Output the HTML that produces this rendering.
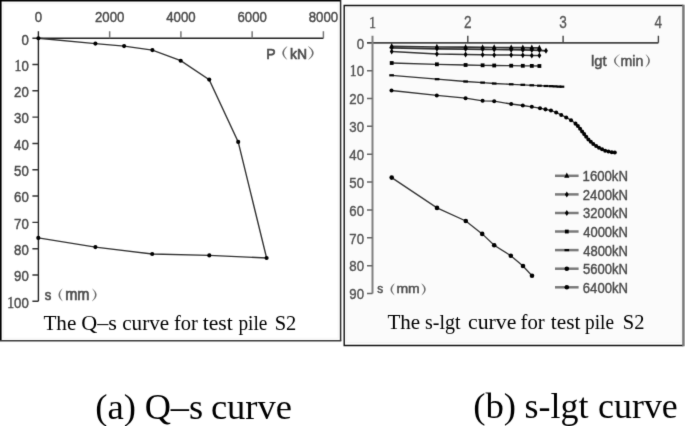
<!DOCTYPE html>
<html><head><meta charset="utf-8"><style>
html,body{margin:0;padding:0;background:#fff;width:685px;height:426px;overflow:hidden}
svg{display:block;position:absolute;left:0;top:0}
text{white-space:pre}
</style></head><body>
<svg width="685" height="426" viewBox="0 0 685 426"><defs><filter id="bl" x="0" y="0" width="685" height="426" filterUnits="userSpaceOnUse" color-interpolation-filters="sRGB"><feConvolveMatrix order="3" kernelMatrix="0.0100 0.0800 0.0100 0.0800 0.6400 0.0800 0.0100 0.0800 0.0100" edgeMode="duplicate"/></filter></defs><g filter="url(#bl)"><rect width="685" height="426" fill="#fff"/><rect x="346.6" y="7.6" width="334.6" height="334.9" fill="#fbfbfb" stroke="#f2f2f2" stroke-width="0.8"/>
<rect x="3.5" y="3.3" width="334.6" height="334.9" fill="none" stroke="#f4f4f4" stroke-width="0.8"/>
<path d="M0.8,340.8V0.75H340.6" fill="none" stroke="#000" stroke-width="1.6"/>
<path d="M340.6,0V340.8" fill="none" stroke="#2a2a2a" stroke-width="1.5"/>
<path d="M341.3,340.8H0" fill="none" stroke="#3a3a3a" stroke-width="1.6"/>
<path d="M683.3,5.5H344.2V345.5H683.3" fill="none" stroke="#111" stroke-width="1.4"/>
<path d="M683.4,4.8V346.2" fill="none" stroke="#777" stroke-width="2.4"/>
<path d="M38.4,38.2H323.4M38.4,31.200000000000003V301.3" stroke="#222" stroke-width="1.4" fill="none"/>
<path d="M109.65,31.200000000000003V38.2M180.9,31.200000000000003V38.2M252.14999999999998,31.200000000000003V38.2M323.4,31.200000000000003V38.2" stroke="#777" stroke-width="1.5" fill="none"/>
<path d="M32.4,38.2H38.4M32.4,64.51H38.4M32.4,90.82000000000001H38.4M32.4,117.13000000000001H38.4M32.4,143.44H38.4M32.4,169.75H38.4M32.4,196.06H38.4M32.4,222.37H38.4M32.4,248.68H38.4M32.4,274.99H38.4M32.4,301.3H38.4" stroke="#333" stroke-width="1.4" fill="none"/>
<text transform="translate(38.40,22.30) scale(0.87,1)" text-anchor="middle" font-family="Liberation Sans" font-size="15.2" fill="#4a4a4a" stroke="#4a4a4a" stroke-width="0.45">0</text>
<text transform="translate(109.65,22.30) scale(0.87,1)" text-anchor="middle" font-family="Liberation Sans" font-size="15.2" fill="#4a4a4a" stroke="#4a4a4a" stroke-width="0.45">2000</text>
<text transform="translate(180.90,22.30) scale(0.87,1)" text-anchor="middle" font-family="Liberation Sans" font-size="15.2" fill="#4a4a4a" stroke="#4a4a4a" stroke-width="0.45">4000</text>
<text transform="translate(252.15,22.30) scale(0.87,1)" text-anchor="middle" font-family="Liberation Sans" font-size="15.2" fill="#4a4a4a" stroke="#4a4a4a" stroke-width="0.45">6000</text>
<text transform="translate(323.40,22.30) scale(0.87,1)" text-anchor="middle" font-family="Liberation Sans" font-size="15.2" fill="#4a4a4a" stroke="#4a4a4a" stroke-width="0.45">8000</text>
<text transform="translate(28.80,44.50) scale(0.87,1)" text-anchor="end" font-family="Liberation Sans" font-size="15.2" fill="#4a4a4a" stroke="#4a4a4a" stroke-width="0.45">0</text>
<text transform="translate(28.80,70.81) scale(0.87,1)" text-anchor="end" font-family="Liberation Sans" font-size="15.2" fill="#4a4a4a" stroke="#4a4a4a" stroke-width="0.45"><tspan font-family="Liberation Serif" font-size="15.81">1</tspan>0</text>
<text transform="translate(28.80,97.12) scale(0.87,1)" text-anchor="end" font-family="Liberation Sans" font-size="15.2" fill="#4a4a4a" stroke="#4a4a4a" stroke-width="0.45">20</text>
<text transform="translate(28.80,123.43) scale(0.87,1)" text-anchor="end" font-family="Liberation Sans" font-size="15.2" fill="#4a4a4a" stroke="#4a4a4a" stroke-width="0.45">30</text>
<text transform="translate(28.80,149.74) scale(0.87,1)" text-anchor="end" font-family="Liberation Sans" font-size="15.2" fill="#4a4a4a" stroke="#4a4a4a" stroke-width="0.45">40</text>
<text transform="translate(28.80,176.05) scale(0.87,1)" text-anchor="end" font-family="Liberation Sans" font-size="15.2" fill="#4a4a4a" stroke="#4a4a4a" stroke-width="0.45">50</text>
<text transform="translate(28.80,202.36) scale(0.87,1)" text-anchor="end" font-family="Liberation Sans" font-size="15.2" fill="#4a4a4a" stroke="#4a4a4a" stroke-width="0.45">60</text>
<text transform="translate(28.80,228.67) scale(0.87,1)" text-anchor="end" font-family="Liberation Sans" font-size="15.2" fill="#4a4a4a" stroke="#4a4a4a" stroke-width="0.45">70</text>
<text transform="translate(28.80,254.98) scale(0.87,1)" text-anchor="end" font-family="Liberation Sans" font-size="15.2" fill="#4a4a4a" stroke="#4a4a4a" stroke-width="0.45">80</text>
<text transform="translate(28.80,281.29) scale(0.87,1)" text-anchor="end" font-family="Liberation Sans" font-size="15.2" fill="#4a4a4a" stroke="#4a4a4a" stroke-width="0.45">90</text>
<text transform="translate(28.80,307.60) scale(0.87,1)" text-anchor="end" font-family="Liberation Sans" font-size="15.2" fill="#4a4a4a" stroke="#4a4a4a" stroke-width="0.45"><tspan font-family="Liberation Serif" font-size="15.81">1</tspan>00</text>
<polyline points="38.4,38.2 95.4,43.6 124.1,46.1 152.4,50.1 180.7,60.7 209.2,79.6 238.2,141.9 266.6,258.0 209.3,255.4 152.2,254.0 95.4,247.1 38.3,237.9" fill="none" stroke="#333" stroke-width="1.4"/>
<circle cx="38.40" cy="38.20" r="2.07" fill="#000"/><circle cx="95.40" cy="43.60" r="2.07" fill="#000"/><circle cx="124.10" cy="46.10" r="2.07" fill="#000"/><circle cx="152.40" cy="50.10" r="2.07" fill="#000"/><circle cx="180.70" cy="60.70" r="2.07" fill="#000"/><circle cx="209.20" cy="79.60" r="2.07" fill="#000"/><circle cx="238.20" cy="141.90" r="2.07" fill="#000"/><circle cx="266.60" cy="258.00" r="2.07" fill="#000"/><circle cx="209.30" cy="255.40" r="2.07" fill="#000"/><circle cx="152.20" cy="254.00" r="2.07" fill="#000"/><circle cx="95.40" cy="247.10" r="2.07" fill="#000"/><circle cx="38.30" cy="237.90" r="2.07" fill="#000"/>
<path d="M367.0,42.8H658.4" stroke="#444" stroke-width="1.7" fill="none"/>
<path d="M372.5,35.8V293.5" stroke="#808080" stroke-width="2.0" fill="none"/>
<path d="M467.8,35.8V42.8M563.1,35.8V42.8M658.4,35.8V42.8" stroke="#444" stroke-width="1.4" fill="none"/>
<path d="M367.0,70.65555555555555H372.5M367.0,98.5111111111111H372.5M367.0,126.36666666666666H372.5M367.0,154.22222222222223H372.5M367.0,182.07777777777778H372.5M367.0,209.93333333333334H372.5M367.0,237.7888888888889H372.5M367.0,265.64444444444445H372.5M367.0,293.5H372.5" stroke="#666" stroke-width="1.5" fill="none"/>
<text transform="translate(372.50,27.60) scale(0.84,1)" text-anchor="middle" font-family="Liberation Sans" font-size="16.2" fill="#555" stroke="#555" stroke-width="0.3"><tspan font-family="Liberation Serif" font-size="16.85">1</tspan></text>
<text transform="translate(467.80,27.60) scale(0.84,1)" text-anchor="middle" font-family="Liberation Sans" font-size="16.2" fill="#555" stroke="#555" stroke-width="0.3">2</text>
<text transform="translate(563.10,27.60) scale(0.84,1)" text-anchor="middle" font-family="Liberation Sans" font-size="16.2" fill="#555" stroke="#555" stroke-width="0.3">3</text>
<text transform="translate(658.40,27.60) scale(0.84,1)" text-anchor="middle" font-family="Liberation Sans" font-size="16.2" fill="#555" stroke="#555" stroke-width="0.3">4</text>
<text transform="translate(364.00,48.60) scale(0.87,1)" text-anchor="end" font-family="Liberation Sans" font-size="15.2" fill="#505050" stroke="#505050" stroke-width="0.38">0</text>
<text transform="translate(364.00,76.46) scale(0.87,1)" text-anchor="end" font-family="Liberation Sans" font-size="15.2" fill="#505050" stroke="#505050" stroke-width="0.38"><tspan font-family="Liberation Serif" font-size="15.81">1</tspan>0</text>
<text transform="translate(364.00,104.31) scale(0.87,1)" text-anchor="end" font-family="Liberation Sans" font-size="15.2" fill="#505050" stroke="#505050" stroke-width="0.38">20</text>
<text transform="translate(364.00,132.17) scale(0.87,1)" text-anchor="end" font-family="Liberation Sans" font-size="15.2" fill="#505050" stroke="#505050" stroke-width="0.38">30</text>
<text transform="translate(364.00,160.02) scale(0.87,1)" text-anchor="end" font-family="Liberation Sans" font-size="15.2" fill="#505050" stroke="#505050" stroke-width="0.38">40</text>
<text transform="translate(364.00,187.88) scale(0.87,1)" text-anchor="end" font-family="Liberation Sans" font-size="15.2" fill="#505050" stroke="#505050" stroke-width="0.38">50</text>
<text transform="translate(364.00,215.73) scale(0.87,1)" text-anchor="end" font-family="Liberation Sans" font-size="15.2" fill="#505050" stroke="#505050" stroke-width="0.38">60</text>
<text transform="translate(364.00,243.59) scale(0.87,1)" text-anchor="end" font-family="Liberation Sans" font-size="15.2" fill="#505050" stroke="#505050" stroke-width="0.38">70</text>
<text transform="translate(364.00,271.44) scale(0.87,1)" text-anchor="end" font-family="Liberation Sans" font-size="15.2" fill="#505050" stroke="#505050" stroke-width="0.38">80</text>
<text transform="translate(364.00,299.30) scale(0.87,1)" text-anchor="end" font-family="Liberation Sans" font-size="15.2" fill="#505050" stroke="#505050" stroke-width="0.38">90</text>
<polyline points="391.7,46.3 436.9,47.0 465.6,47.2 482.6,47.4 494.2,47.5 511.2,47.6 522.8,47.7 531.8,47.8 539.4,47.9" fill="none" stroke="#333" stroke-width="1.7"/>
<path d="M391.70,43.10L394.30,48.30L389.10,48.30Z" fill="#000"/><path d="M436.90,43.80L439.50,49.00L434.30,49.00Z" fill="#000"/><path d="M465.60,44.00L468.20,49.20L463.00,49.20Z" fill="#000"/><path d="M482.60,44.20L485.20,49.40L480.00,49.40Z" fill="#000"/><path d="M494.20,44.30L496.80,49.50L491.60,49.50Z" fill="#000"/><path d="M511.20,44.40L513.80,49.60L508.60,49.60Z" fill="#000"/><path d="M522.80,44.50L525.40,49.70L520.20,49.70Z" fill="#000"/><path d="M531.80,44.60L534.40,49.80L529.20,49.80Z" fill="#000"/><path d="M539.40,44.70L542.00,49.90L536.80,49.90Z" fill="#000"/>
<polyline points="391.7,47.8 436.9,48.8 465.6,49.1 482.6,49.3 494.2,49.5 511.2,49.7 522.8,49.9 531.8,50.1 539.4,50.3 546.0,50.8" fill="none" stroke="#333" stroke-width="1.7"/>
<path d="M391.70,44.80L393.60,47.80L391.70,50.80L389.80,47.80Z" fill="#000"/><path d="M436.90,45.80L438.80,48.80L436.90,51.80L435.00,48.80Z" fill="#000"/><path d="M465.60,46.10L467.50,49.10L465.60,52.10L463.70,49.10Z" fill="#000"/><path d="M482.60,46.30L484.50,49.30L482.60,52.30L480.70,49.30Z" fill="#000"/><path d="M494.20,46.50L496.10,49.50L494.20,52.50L492.30,49.50Z" fill="#000"/><path d="M511.20,46.70L513.10,49.70L511.20,52.70L509.30,49.70Z" fill="#000"/><path d="M522.80,46.90L524.70,49.90L522.80,52.90L520.90,49.90Z" fill="#000"/><path d="M531.80,47.10L533.70,50.10L531.80,53.10L529.90,50.10Z" fill="#000"/><path d="M539.40,47.30L541.30,50.30L539.40,53.30L537.50,50.30Z" fill="#000"/><path d="M546.00,47.80L547.90,50.80L546.00,53.80L544.10,50.80Z" fill="#000"/>
<polyline points="391.7,51.6 436.9,54.0 465.6,54.4 482.6,54.7 494.2,54.9 511.2,55.1 522.8,55.3 531.8,55.5 539.4,55.6" fill="none" stroke="#333" stroke-width="1.5"/>
<path d="M391.70,48.60L393.60,51.60L391.70,54.60L389.80,51.60Z" fill="#000"/><path d="M436.90,51.00L438.80,54.00L436.90,57.00L435.00,54.00Z" fill="#000"/><path d="M465.60,51.40L467.50,54.40L465.60,57.40L463.70,54.40Z" fill="#000"/><path d="M482.60,51.70L484.50,54.70L482.60,57.70L480.70,54.70Z" fill="#000"/><path d="M494.20,51.90L496.10,54.90L494.20,57.90L492.30,54.90Z" fill="#000"/><path d="M511.20,52.10L513.10,55.10L511.20,58.10L509.30,55.10Z" fill="#000"/><path d="M522.80,52.30L524.70,55.30L522.80,58.30L520.90,55.30Z" fill="#000"/><path d="M531.80,52.50L533.70,55.50L531.80,58.50L529.90,55.50Z" fill="#000"/><path d="M539.40,52.60L541.30,55.60L539.40,58.60L537.50,55.60Z" fill="#000"/>
<polyline points="391.7,63.0 436.9,64.3 465.6,65.0 482.6,65.3 494.2,65.5 511.2,65.7 522.8,65.8 531.8,65.9 539.4,66.0" fill="none" stroke="#333" stroke-width="1.3"/>
<rect x="389.80" y="61.10" width="3.80" height="3.80" fill="#000"/><rect x="435.00" y="62.40" width="3.80" height="3.80" fill="#000"/><rect x="463.70" y="63.10" width="3.80" height="3.80" fill="#000"/><rect x="480.70" y="63.40" width="3.80" height="3.80" fill="#000"/><rect x="492.30" y="63.60" width="3.80" height="3.80" fill="#000"/><rect x="509.30" y="63.80" width="3.80" height="3.80" fill="#000"/><rect x="520.90" y="63.90" width="3.80" height="3.80" fill="#000"/><rect x="529.90" y="64.00" width="3.80" height="3.80" fill="#000"/><rect x="537.50" y="64.10" width="3.80" height="3.80" fill="#000"/>
<polyline points="391.6,75.3 437.1,79.2 465.6,81.5 482.6,82.6 494.2,83.5 511.2,84.3 522.8,84.8 531.8,85.3 539.4,85.7 546.0,86.0 551.0,86.2 555.0,86.4 559.0,86.6 562.0,86.7" fill="none" stroke="#333" stroke-width="1.3"/>
<rect x="389.30" y="74.20" width="4.60" height="2.20" fill="#000"/><rect x="434.80" y="78.10" width="4.60" height="2.20" fill="#000"/><rect x="463.30" y="80.40" width="4.60" height="2.20" fill="#000"/><rect x="480.30" y="81.50" width="4.60" height="2.20" fill="#000"/><rect x="491.90" y="82.40" width="4.60" height="2.20" fill="#000"/><rect x="508.90" y="83.20" width="4.60" height="2.20" fill="#000"/><rect x="520.50" y="83.70" width="4.60" height="2.20" fill="#000"/><rect x="529.50" y="84.20" width="4.60" height="2.20" fill="#000"/><rect x="537.10" y="84.60" width="4.60" height="2.20" fill="#000"/><rect x="543.70" y="84.90" width="4.60" height="2.20" fill="#000"/><rect x="548.70" y="85.10" width="4.60" height="2.20" fill="#000"/><rect x="552.70" y="85.30" width="4.60" height="2.20" fill="#000"/><rect x="556.70" y="85.50" width="4.60" height="2.20" fill="#000"/><rect x="559.70" y="85.60" width="4.60" height="2.20" fill="#000"/>
<polyline points="391.5,90.5 436.8,95.4 465.6,98.2 482.6,100.8 494.2,101.2 511.2,104.0 522.8,105.5 531.8,106.8 540.0,108.2 545.5,109.4 551.0,110.5 556.2,112.5 561.2,114.9 566.2,117.4 571.0,120.3 575.5,123.6 577.9,126.1 580.1,128.7 582.1,131.4 584.1,134.1 586.2,136.8 588.4,139.4 590.8,141.8 593.3,144.1 596.1,146.0 599.0,147.8 602.1,149.3 605.2,150.7 608.5,151.5 611.8,152.3 614.8,152.5" fill="none" stroke="#333" stroke-width="1.3"/>
<circle cx="391.50" cy="90.50" r="2.02" fill="#000"/><circle cx="436.80" cy="95.40" r="2.02" fill="#000"/><circle cx="465.60" cy="98.20" r="2.02" fill="#000"/><circle cx="482.60" cy="100.80" r="2.02" fill="#000"/><circle cx="494.20" cy="101.20" r="2.02" fill="#000"/><circle cx="511.20" cy="104.00" r="2.02" fill="#000"/><circle cx="522.80" cy="105.50" r="2.02" fill="#000"/><circle cx="531.80" cy="106.80" r="2.02" fill="#000"/><circle cx="540.00" cy="108.20" r="2.02" fill="#000"/><circle cx="545.48" cy="109.37" r="2.02" fill="#000"/><circle cx="550.96" cy="110.49" r="2.02" fill="#000"/><circle cx="556.19" cy="112.49" r="2.02" fill="#000"/><circle cx="561.24" cy="114.90" r="2.02" fill="#000"/><circle cx="566.24" cy="117.42" r="2.02" fill="#000"/><circle cx="571.04" cy="120.29" r="2.02" fill="#000"/><circle cx="575.52" cy="123.63" r="2.02" fill="#000"/><circle cx="577.89" cy="126.07" r="2.02" fill="#000"/><circle cx="580.07" cy="128.67" r="2.02" fill="#000"/><circle cx="582.10" cy="131.40" r="2.02" fill="#000"/><circle cx="584.14" cy="134.11" r="2.02" fill="#000"/><circle cx="586.19" cy="136.83" r="2.02" fill="#000"/><circle cx="588.40" cy="139.40" r="2.02" fill="#000"/><circle cx="590.81" cy="141.81" r="2.02" fill="#000"/><circle cx="593.30" cy="144.10" r="2.02" fill="#000"/><circle cx="596.15" cy="145.96" r="2.02" fill="#000"/><circle cx="599.00" cy="147.80" r="2.02" fill="#000"/><circle cx="602.08" cy="149.26" r="2.02" fill="#000"/><circle cx="605.16" cy="150.67" r="2.02" fill="#000"/><circle cx="608.45" cy="151.53" r="2.02" fill="#000"/><circle cx="611.76" cy="152.26" r="2.02" fill="#000"/><circle cx="614.80" cy="152.50" r="2.02" fill="#000"/>
<polyline points="391.7,177.6 437.0,207.9 465.8,221.0 482.2,233.9 494.2,245.3 510.8,255.7 523.0,266.0 532.0,275.8" fill="none" stroke="#333" stroke-width="1.3"/>
<circle cx="391.70" cy="177.60" r="2.30" fill="#000"/><circle cx="437.00" cy="207.90" r="2.30" fill="#000"/><circle cx="465.80" cy="221.00" r="2.30" fill="#000"/><circle cx="482.20" cy="233.90" r="2.30" fill="#000"/><circle cx="494.20" cy="245.30" r="2.30" fill="#000"/><circle cx="510.80" cy="255.70" r="2.30" fill="#000"/><circle cx="523.00" cy="266.00" r="2.30" fill="#000"/><circle cx="532.00" cy="275.80" r="2.30" fill="#000"/>
<path d="M555,175.8H578.6" stroke="#7a7a7a" stroke-width="2.5"/>
<path d="M566.80,172.60L569.40,177.80L564.20,177.80Z" fill="#000"/>
<path d="M555,194.4H578.6" stroke="#7a7a7a" stroke-width="2.5"/>
<path d="M566.80,191.38L568.70,194.38L566.80,197.38L564.90,194.38Z" fill="#000"/>
<path d="M555,213.0H578.6" stroke="#7a7a7a" stroke-width="2.5"/>
<path d="M566.80,209.96L568.70,212.96L566.80,215.96L564.90,212.96Z" fill="#000"/>
<path d="M555,231.5H578.6" stroke="#7a7a7a" stroke-width="2.5"/>
<rect x="564.90" y="229.64" width="3.80" height="3.80" fill="#000"/>
<path d="M555,250.1H578.6" stroke="#7a7a7a" stroke-width="2.5"/>
<rect x="564.50" y="249.02" width="4.60" height="2.20" fill="#000"/>
<path d="M555,268.7H578.6" stroke="#7a7a7a" stroke-width="2.5"/>
<circle cx="566.80" cy="268.70" r="2.30" fill="#000"/>
<path d="M555,287.3H578.6" stroke="#7a7a7a" stroke-width="2.5"/>
<circle cx="566.80" cy="287.28" r="2.30" fill="#000"/>
<text transform="translate(266.37,58.80) scale(0.1407,0.1536)" font-family="Liberation Sans" font-weight="normal" font-size="100" fill="#4e4e4e" stroke="#4e4e4e" stroke-width="4.42">P</text>
<text transform="translate(289.96,58.80) scale(0.1394,0.1479)" font-family="Liberation Sans" font-weight="normal" font-size="100" fill="#4e4e4e" stroke="#4e4e4e" stroke-width="4.52">kN</text>
<text transform="translate(44.74,299.95) scale(0.1311,0.1545)" font-family="Liberation Sans" font-weight="normal" font-size="100" fill="#4e4e4e" stroke="#4e4e4e" stroke-width="4.55">s</text>
<text transform="translate(65.23,300.10) scale(0.1458,0.1574)" font-family="Liberation Sans" font-weight="normal" font-size="100" fill="#4e4e4e" stroke="#4e4e4e" stroke-width="4.29">mm</text>
<text transform="translate(591.01,66.18) scale(0.1482,0.1532)" font-family="Liberation Sans" font-weight="normal" font-size="100" fill="#4e4e4e" stroke="#4e4e4e" stroke-width="3.32">lgt</text>
<text transform="translate(620.55,66.20) scale(0.1418,0.1493)" font-family="Liberation Sans" font-weight="normal" font-size="100" fill="#4e4e4e" stroke="#4e4e4e" stroke-width="3.44">min</text>
<text transform="translate(377.36,293.27) scale(0.1178,0.1309)" font-family="Liberation Sans" font-weight="normal" font-size="100" fill="#4e4e4e" stroke="#4e4e4e" stroke-width="4.02">s</text>
<text transform="translate(396.46,293.40) scale(0.1400,0.1333)" font-family="Liberation Sans" font-weight="normal" font-size="100" fill="#4e4e4e" stroke="#4e4e4e" stroke-width="3.66">mm</text>
<text transform="translate(582.58,181.31) scale(0.1316,0.1405)" font-family="Liberation Sans" font-weight="normal" font-size="100" fill="#4a4a4a" stroke="#4a4a4a" stroke-width="2.79">1600kN</text>
<text transform="translate(582.85,199.86) scale(0.1308,0.1405)" font-family="Liberation Sans" font-weight="normal" font-size="100" fill="#4a4a4a" stroke="#4a4a4a" stroke-width="2.80">2400kN</text>
<text transform="translate(583.11,218.41) scale(0.1301,0.1405)" font-family="Liberation Sans" font-weight="normal" font-size="100" fill="#4a4a4a" stroke="#4a4a4a" stroke-width="2.81">3200kN</text>
<text transform="translate(583.24,236.96) scale(0.1297,0.1405)" font-family="Liberation Sans" font-weight="normal" font-size="100" fill="#4a4a4a" stroke="#4a4a4a" stroke-width="2.81">4000kN</text>
<text transform="translate(583.24,255.51) scale(0.1297,0.1405)" font-family="Liberation Sans" font-weight="normal" font-size="100" fill="#4a4a4a" stroke="#4a4a4a" stroke-width="2.81">4800kN</text>
<text transform="translate(582.98,274.06) scale(0.1305,0.1405)" font-family="Liberation Sans" font-weight="normal" font-size="100" fill="#4a4a4a" stroke="#4a4a4a" stroke-width="2.80">5600kN</text>
<text transform="translate(582.85,292.61) scale(0.1308,0.1405)" font-family="Liberation Sans" font-weight="normal" font-size="100" fill="#4a4a4a" stroke="#4a4a4a" stroke-width="2.80">6400kN</text>
<path d="M287.40,46.10Q277.20,53.10 287.40,60.10L287.10,59.50Q280.70,53.10 287.10,46.70Z" fill="#6a6a6a"/>
<path d="M308.10,46.10Q319.30,53.10 308.10,60.10L308.40,59.50Q315.80,53.10 308.40,46.70Z" fill="#6a6a6a"/>
<path d="M62.70,288.20Q54.30,294.80 62.70,301.40L62.40,300.80Q57.80,294.80 62.40,288.80Z" fill="#6a6a6a"/>
<path d="M92.00,288.20Q101.20,294.80 92.00,301.40L92.30,300.80Q97.70,294.80 92.30,288.80Z" fill="#6a6a6a"/>
<path d="M619.90,53.90Q608.10,60.65 619.90,67.40L619.60,66.80Q611.60,60.65 619.60,54.50Z" fill="#6a6a6a"/>
<path d="M645.50,53.90Q654.30,60.65 645.50,67.40L645.80,66.80Q650.80,60.65 645.80,54.50Z" fill="#6a6a6a"/>
<path d="M394.70,283.30Q386.30,289.40 394.70,295.50L394.40,294.90Q389.80,289.40 394.40,283.90Z" fill="#6a6a6a"/>
<path d="M421.40,283.30Q430.00,289.40 421.40,295.50L421.70,294.90Q426.50,289.40 421.70,283.90Z" fill="#6a6a6a"/>
<text transform="translate(43.39,329.7) scale(1.0282,1)" font-family="Liberation Serif" font-size="20.6" fill="#000">The</text>
<text transform="translate(81.32,329.7) scale(1.0734,1)" font-family="Liberation Serif" font-size="20.6" fill="#000">Q–s</text>
<text transform="translate(122.27,329.7) scale(1.0241,1)" font-family="Liberation Serif" font-size="20.6" fill="#000">curve</text>
<text transform="translate(173.99,329.7) scale(0.9940,1)" font-family="Liberation Serif" font-size="20.6" fill="#000">for</text>
<text transform="translate(202.70,329.7) scale(1.0506,1)" font-family="Liberation Serif" font-size="20.6" fill="#000">test</text>
<text transform="translate(238.41,329.7) scale(0.9371,1)" font-family="Liberation Serif" font-size="20.6" fill="#000">pile</text>
<text transform="translate(274.67,329.7) scale(0.9953,1)" font-family="Liberation Serif" font-size="20.6" fill="#000">S2</text>
<text transform="translate(387.39,328.7) scale(1.0217,1)" font-family="Liberation Serif" font-size="20.6" fill="#000">The</text>
<text transform="translate(425.00,328.7) scale(0.9681,1)" font-family="Liberation Serif" font-size="20.6" fill="#000">s-lgt</text>
<text transform="translate(468.05,328.7) scale(1.0578,1)" font-family="Liberation Serif" font-size="20.6" fill="#000">curve</text>
<text transform="translate(520.48,328.7) scale(1.0069,1)" font-family="Liberation Serif" font-size="20.6" fill="#000">for</text>
<text transform="translate(550.80,328.7) scale(1.0331,1)" font-family="Liberation Serif" font-size="20.6" fill="#000">test</text>
<text transform="translate(585.01,328.7) scale(0.9371,1)" font-family="Liberation Serif" font-size="20.6" fill="#000">pile</text>
<text transform="translate(622.77,328.7) scale(0.9953,1)" font-family="Liberation Serif" font-size="20.6" fill="#000">S2</text>
<text transform="translate(95.23,418.6) scale(1.0170,1)" font-family="Liberation Serif" font-size="36.1" fill="#000">(a)</text>
<text transform="translate(144.65,418.6) scale(1.0059,1)" font-family="Liberation Serif" font-size="36.1" fill="#000">Q–s</text>
<text transform="translate(210.90,418.6) scale(1.0120,1)" font-family="Liberation Serif" font-size="36.1" fill="#000">curve</text>
<text transform="translate(473.13,418.4) scale(1.0177,1)" font-family="Liberation Serif" font-size="36.2" fill="#000">(b)</text>
<text transform="translate(524.46,418.4) scale(0.9938,1)" font-family="Liberation Serif" font-size="36.2" fill="#000">s-lgt</text>
<text transform="translate(598.12,418.4) scale(0.9913,1)" font-family="Liberation Serif" font-size="36.2" fill="#000">curve</text></g></svg>
</body></html>
